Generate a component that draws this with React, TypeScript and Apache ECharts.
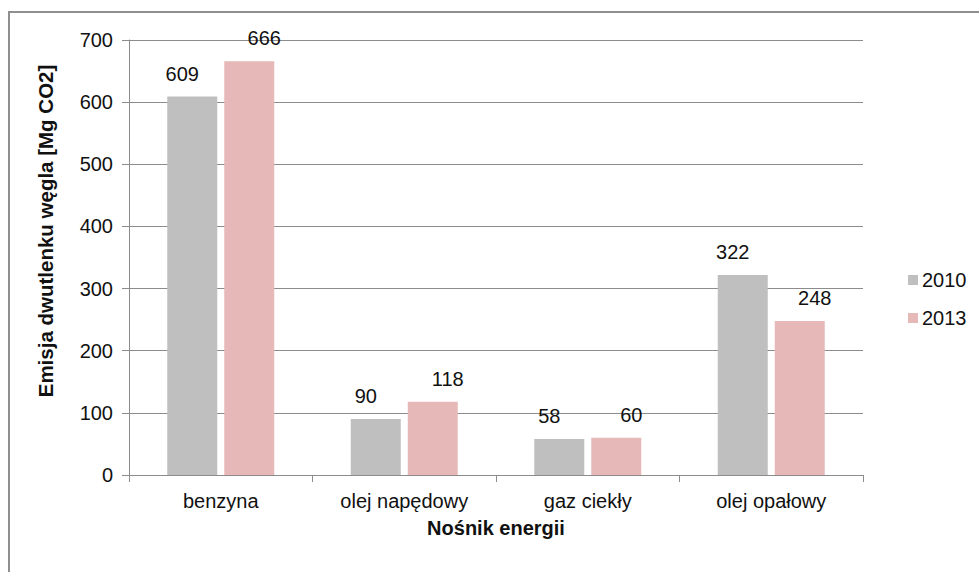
import React, { useEffect, useRef } from "react";
import * as echarts from "echarts";

const categories = ["benzyna", "olej napędowy", "gaz ciekły", "olej opałowy"];
const seriesNames = ["2010", "2013"];
const values2010 = [609, 90, 58, 322];
const values2013 = [666, 118, 60, 248];
const yTicks = { min: 0, max: 700, interval: 100 };
const yTitle = "Emisja dwutlenku węgla [Mg CO2]";
const xTitle = "Nośnik energii";

const FONT = "Liberation Sans, Arial, sans-serif";

export default function App() {
  const ref = useRef<HTMLDivElement>(null);
  useEffect(() => {
    if (!ref.current) return;
    const chart = echarts.init(ref.current, undefined, { renderer: "svg" });
    const labelBase = {
      show: true,
      position: "top" as const,
      distance: 13,
      color: "#111111",
      fontSize: 20,
      fontFamily: FONT,
    };
    chart.setOption({
      animation: false,
      backgroundColor: "#ffffff",
      textStyle: { fontFamily: FONT },
      graphic: [
        {
          type: "rect",
          shape: { x: 9, y: 12, width: 1100, height: 700 },
          style: { fill: "none", stroke: "#8f8f8f", lineWidth: 2 },
          silent: true,
        },
        {
          type: "text",
          x: 45,
          y: 231,
          rotation: Math.PI / 2,
          style: {
            text: yTitle,
            fontSize: 20.5,
            fontWeight: "bold",
            fontFamily: FONT,
            fill: "#111111",
            textAlign: "center",
            textVerticalAlign: "middle",
          },
          silent: true,
        },
      ],
      grid: { left: 129, right: 116, top: 40, bottom: 97, containLabel: false },
      legend: {
        orient: "vertical",
        left: 903,
        top: 265,
        itemWidth: 10,
        itemHeight: 10,
        itemGap: 18,
        icon: "rect",
        data: seriesNames,
        textStyle: { fontSize: 20, color: "#111111", fontFamily: FONT, lineHeight: 20, padding: [0, 0, 0, -1] },
      },
      xAxis: {
        type: "category",
        data: categories,
        name: xTitle,
        nameLocation: "middle",
        nameGap: 43,
        nameTextStyle: { fontSize: 20, fontWeight: "bold", color: "#111111", fontFamily: FONT },
        axisLine: { lineStyle: { color: "#8c8c8c", width: 1 } },
        axisTick: { show: true, length: 7, lineStyle: { color: "#8c8c8c" } },
        axisLabel: { fontSize: 20, color: "#111111", margin: 16, fontFamily: FONT },
      },
      yAxis: {
        type: "value",
        min: yTicks.min,
        max: yTicks.max,
        interval: yTicks.interval,
        axisLine: { show: true, lineStyle: { color: "#8c8c8c", width: 1 } },
        axisTick: { show: true, length: 7, lineStyle: { color: "#8c8c8c" } },
        axisLabel: { fontSize: 20, color: "#111111", margin: 16, fontFamily: FONT },
        splitLine: { show: true, lineStyle: { color: "#8c8c8c", width: 1 } },
      },
      series: [
        {
          name: seriesNames[0],
          type: "bar",
          data: values2010,
          barWidth: 50,
          barGap: "14%",
          itemStyle: { color: "#bfbfbf" },
          label: { ...labelBase, offset: [-10, 0] },
        },
        {
          name: seriesNames[1],
          type: "bar",
          data: values2013,
          barWidth: 50,
          barGap: "14%",
          itemStyle: { color: "#e6b8b7" },
          label: { ...labelBase, offset: [15, 0] },
        },
      ],
    });
    return () => chart.dispose();
  }, []);
  return (
    <div
      ref={ref}
      style={{ position: "absolute", left: 0, top: 0, width: 979, height: 572 }}
    />
  );
}
